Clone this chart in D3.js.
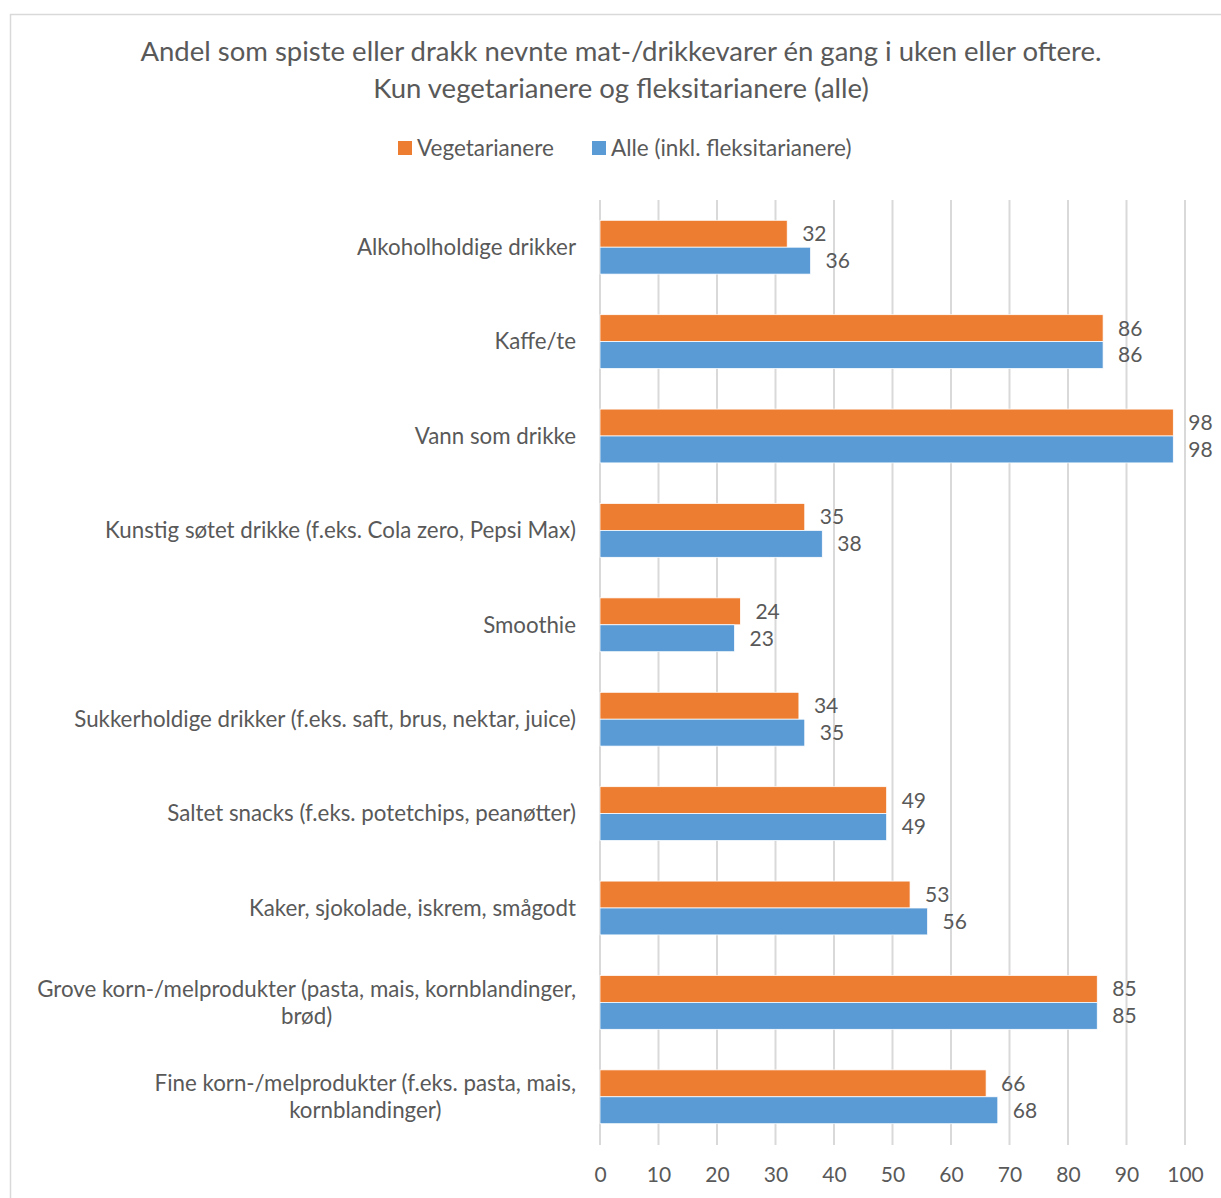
<!DOCTYPE html>
<html>
<head>
<meta charset="utf-8">
<script src="https://cdn.jsdelivr.net/npm/d3@7"></script>
<style>
  body { margin: 0; background: #fff; }
  svg text { font-family: Lato, "Open Sans", sans-serif; fill: #595959; }
</style>
</head>
<body>
<svg id="chart" width="1221" height="1198"></svg>
<script>
// Categories (top to bottom); multi-line labels split on "|"
const categories = [
  "Alkoholholdige drikker",
  "Kaffe/te",
  "Vann som drikke",
  "Kunstig søtet drikke (f.eks. Cola zero, Pepsi Max)",
  "Smoothie",
  "Sukkerholdige drikker (f.eks. saft, brus, nektar, juice)",
  "Saltet snacks (f.eks. potetchips, peanøtter)",
  "Kaker, sjokolade, iskrem, smågodt",
  "Grove korn-/melprodukter (pasta, mais, kornblandinger,|brød)",
  "Fine korn-/melprodukter (f.eks. pasta, mais,|kornblandinger)"
];
const vegetarianere = [32, 86, 98, 35, 24, 34, 49, 53, 85, 66];
const alle = [36, 86, 98, 38, 23, 35, 49, 56, 85, 68];
const seriesNames = ["Vegetarianere", "Alle (inkl. fleksitarianere)"];
const seriesColors = ["#ED7D31", "#5B9BD5"];
const xTicks = [0, 10, 20, 30, 40, 50, 60, 70, 80, 90, 100];
const titleLines = [
  "Andel som spiste eller drakk nevnte mat-/drikkevarer én gang i uken eller oftere.",
  "Kun vegetarianere og fleksitarianere (alle)"
];

const svg = d3.select("#chart");

// outer frame
svg.append("rect")
  .attr("x", 10.5).attr("y", 14.5)
  .attr("width", 1230).attr("height", 1200)
  .attr("fill", "none").attr("stroke", "#d9d9d9").attr("stroke-width", 1.5);

const plot = { left: 600, right: 1185, top: 200, bottom: 1144 };

const x = d3.scaleLinear().domain([0, 100]).range([plot.left, plot.right]);
const y = d3.scaleBand().domain(d3.range(categories.length))
  .range([plot.top, plot.bottom]).paddingInner(0.43).paddingOuter(0.215);
const ySub = d3.scaleBand().domain([0, 1]).range([0, y.bandwidth()]);

// title
svg.append("g").selectAll("text").data(titleLines).join("text")
  .attr("x", 621).attr("y", (d, i) => 61 + i * 37)
  .attr("text-anchor", "middle")
  .style("font-size", "27.5px")
  .text(d => d);

// legend
const legendPos = [398, 592];
const legend = svg.append("g").selectAll("g").data(seriesNames).join("g")
  .attr("transform", (d, i) => `translate(${legendPos[i]},148)`);
legend.append("rect").attr("x", 0).attr("y", -7).attr("width", 14).attr("height", 14)
  .attr("fill", (d, i) => seriesColors[i]);
legend.append("text").attr("x", 19).attr("y", 0).attr("dy", "0.35em")
  .style("font-size", "22.5px").text(d => d);

// grid lines
svg.append("g").selectAll("line").data(xTicks).join("line")
  .attr("x1", d => x(d)).attr("x2", d => x(d))
  .attr("y1", plot.top).attr("y2", plot.bottom + 1)
  .attr("stroke", "#d9d9d9").attr("stroke-width", 2);

// x axis tick labels
const xAxis = d3.axisBottom(x).tickValues(xTicks).tickSize(0).tickPadding(0);
const gx = svg.append("g").attr("transform", `translate(0,${plot.bottom + 23})`).call(xAxis);
gx.select(".domain").remove();
gx.selectAll("text").style("font-size", "21px").attr("fill", "#595959").attr("font-family", null);

// bars
const series = [vegetarianere, alle];
const groups = svg.append("g").selectAll("g").data(categories).join("g")
  .attr("transform", (d, i) => `translate(0,${y(i)})`);

series.forEach((vals, s) => {
  groups.append("rect")
    .attr("x", x(0))
    .attr("y", ySub(s))
    .attr("width", (d, i) => x(vals[i]) - x(0))
    .attr("height", ySub.bandwidth())
    .attr("fill", seriesColors[s])
    .attr("stroke", "#fff").attr("stroke-width", 0.75);
  groups.append("text")
    .attr("x", (d, i) => x(vals[i]) + 15)
    .attr("y", ySub(s) + ySub.bandwidth() / 2)
    .attr("dy", "0.35em")
    .style("font-size", "21px")
    .text((d, i) => vals[i]);
});

// category labels: block right-aligned, lines centred within the block
groups.each(function(d) {
  const g = d3.select(this);
  const lines = d.split("|");
  const lh = 27;
  const cy = y.bandwidth() / 2;
  const texts = lines.map((line, k) => g.append("text")
    .attr("y", cy + (k - (lines.length - 1) / 2) * lh)
    .attr("dy", "0.35em")
    .style("font-size", "22.3px")
    .text(line));
  const maxW = d3.max(texts, t => t.node().getComputedTextLength());
  texts.forEach(t => t.attr("x", 576 - maxW / 2).attr("text-anchor", "middle"));
});
</script>
</body>
</html>
